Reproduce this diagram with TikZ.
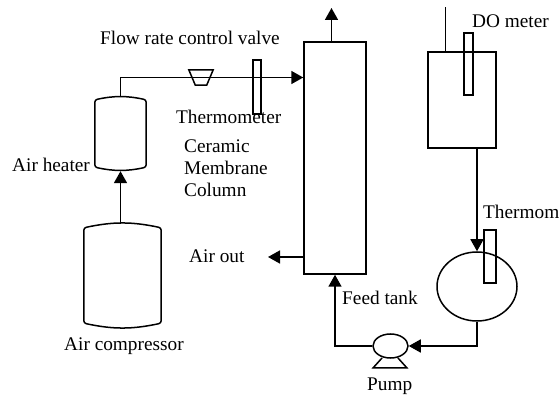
\documentclass[tikz,border=0pt]{standalone}
\usepackage{fontspec}
\setmainfont{Liberation Serif}
\usetikzlibrary{arrows.meta,shapes.geometric}
\tikzset{
    unit-box/.style = {draw=black, line width=1.5pt, rectangle, minimum width=#1, inner sep=0pt},
    probe-box/.style = {draw=black, line width=1.3pt, rectangle, inner sep=0pt, minimum width=#1},
    vessel-box/.style = {rectangle, inner sep=0pt},
    round-vessel/.style = {draw=black, line width=1.5pt, ellipse, inner sep=0pt},
    pipe-line/.style = {line width=1.7pt, -{Triangle[length=12pt,width=13pt]}},
    plain-line/.style = {line width=1.5pt},
    plain-label/.style = {anchor=base west, inner sep=0pt, font=\fontsize{19.3}{21.8}\selectfont},
}
\newcommand{\drawvessel}[1]{\draw[plain-line, rounded corners=2.5pt] ([yshift=-4pt]#1.north west) to[bend left=12] ([yshift=-4pt]#1.north east) -- ([yshift=4pt]#1.south east) to[bend left=12] ([yshift=4pt]#1.south west) -- cycle;}
\begin{document}
\begin{tikzpicture}[x=1pt,y=-1pt]
\useasboundingbox (0,0) rectangle (560,395);
% units
\node [unit-box=62pt, minimum height=232pt] (column) at (335,158) {};
\node [unit-box=68pt, minimum height=96pt] (tank) at (462,100) {};
\node [vessel-box, minimum width=51pt, minimum height=75pt] (heater) at (120.5,133.5) {};
\node [vessel-box, minimum width=77pt, minimum height=103pt] (compressor) at (122.5,275.5) {};
\drawvessel{heater}
\drawvessel{compressor}
\node [round-vessel, minimum width=80pt, minimum height=69pt] (feed) at (477,286.5) {};
\node [round-vessel, minimum width=35pt, minimum height=24pt] (pump) at (390.5,346) {};
\node [vessel-box, minimum width=24pt, minimum height=15pt] (valve) at (201,77.5) {};
\draw [plain-line] (valve.north west) -- (valve.north east) -- ([xshift=-6.5pt]valve.south east) -- ([xshift=6.5pt]valve.south west) -- cycle;
% free ends
\coordinate (air-in) at (column.west |- valve);
\coordinate (top-out) at (331.5,8);
\coordinate (side-start) at (column.west |- 0,257);
\coordinate (side-out) at (268,257);
\coordinate (stir-top) at (445.5,7);
% probes
\node [probe-box=8pt, minimum height=54pt] (temp-air) at (257,87) {};
\node [probe-box=9pt, minimum height=62pt] (do-probe) at (468.5,64) {};
\node [probe-box=12pt, minimum height=53pt] (temp-feed) at (490,256.5) {};
% pipes
\draw [pipe-line] (heater.north) |- (air-in);
\draw [pipe-line] (compressor.north -| heater) -- (heater.south);
\draw [pipe-line] (column.north -| top-out) -- (top-out);
\draw [pipe-line] (side-start) -- (side-out);
\draw [plain-line] (tank.north -| stir-top) -- (stir-top);
\draw [pipe-line] (tank.south -| feed) -- (feed.north);
\draw [pipe-line] (feed.south) |- (pump.east);
\draw [pipe-line] (pump.west) -| (column.south);
% pump foot
\draw [plain-line] (382,358) -- (373,368) -- (407,368) -- (398,358);
% labels
\node [plain-label] (valve-label) at (100,45) {Flow rate control valve};
\node [plain-label] (temp-air-label) at (176,124) {Thermometer};
\node [plain-label, anchor=north west, align=left] (column-label) at (184,140) {Ceramic\\Membrane\\Column};
\node [plain-label] (heater-label) at (12,172) {Air heater};
\node [plain-label] (compressor-label) at (64,351) {Air compressor};
\node [plain-label] (air-out-label) at (189,263) {Air out};
\node [plain-label] (do-label) at (472,28) {DO meter};
\node [plain-label] (temp-feed-label) at (483,219) {Thermom};
\node [plain-label] (feed-label) at (342,305) {Feed tank};
\node [plain-label] (pump-label) at (367,391) {Pump};
\end{tikzpicture}
\end{document}
